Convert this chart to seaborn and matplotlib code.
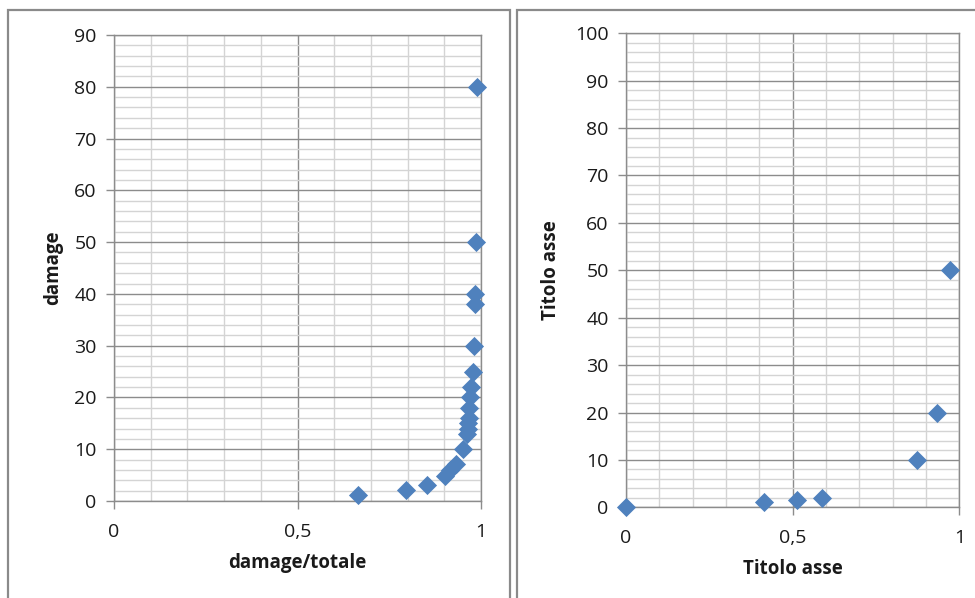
import matplotlib
matplotlib.use("Agg")
import matplotlib.pyplot as plt
from matplotlib.patches import Rectangle
from matplotlib.ticker import MultipleLocator, FuncFormatter
import seaborn as sns
import pandas as pd

# damage share vs. damage level
ratio_left = [0.664, 0.797, 0.852, 0.903, 0.916, 0.931, 0.950, 0.963, 0.964,
              0.965, 0.966, 0.968, 0.970, 0.973, 0.978, 0.982, 0.984, 0.985,
              0.987, 0.990]
damage_left = [1.2, 2.2, 3, 4.9, 6, 7.1, 10, 13, 14, 15, 16, 18, 20, 22, 25,
               30, 38, 40, 50, 80]

# second series
x_right = [0, 0.414, 0.514, 0.587, 0.874, 0.932, 0.972]
y_right = [0, 1.2, 1.5, 2, 10, 20, 50]

x_ticks = [0, 0.5, 1]
x_tick_labels = ["0", "0,5", "1"]

sns.set_theme(style="white")
plt.rcParams["font.family"] = ["Open Sans", "DejaVu Sans"]

BLUE = "#4F81BD"
MAJOR = "#8C8C8C"
MINOR = "#D4D4D4"
TEXT = "#1a1a1a"

W, H = 975, 598
fig = plt.figure(figsize=(W / 100, H / 100), dpi=100)
fig.patch.set_facecolor("white")


def px_axes(left, right, top, bottom):
    return fig.add_axes([left / W, (H - bottom) / H, (right - left) / W, (bottom - top) / H])


def style_axes(ax, ymax, ymajor):
    ax.set_xlim(0, 1)
    ax.set_ylim(0, ymax)
    ax.xaxis.set_major_locator(MultipleLocator(0.5))
    ax.xaxis.set_minor_locator(MultipleLocator(0.1))
    ax.yaxis.set_major_locator(MultipleLocator(ymajor))
    ax.yaxis.set_minor_locator(MultipleLocator(2))
    ax.xaxis.set_major_formatter(FuncFormatter(
        lambda v, p: x_tick_labels[x_ticks.index(round(v, 2))] if round(v, 2) in x_ticks else ""))
    ax.grid(which="minor", color=MINOR, linewidth=1.0, zorder=0)
    ax.grid(which="major", color=MAJOR, linewidth=1.0, zorder=1)
    ax.set_axisbelow(True)
    for side in ["left", "bottom", "top", "right"]:
        ax.spines[side].set_visible(True)
        ax.spines[side].set_color(MAJOR)
        ax.spines[side].set_linewidth(1.0)
    ax.tick_params(which="major", direction="out", length=5.5, width=1.0, color=MAJOR,
                   labelsize=14, labelcolor=TEXT, left=True, bottom=True)
    ax.tick_params(axis="y", which="major", pad=7)
    ax.tick_params(axis="x", which="major", pad=10)
    ax.tick_params(which="minor", length=0)
    ax.set_facecolor("white")


# chart area borders
for x0, x1 in [(8, 510), (517, 1000)]:
    fig.patches.append(Rectangle((x0 / W, -0.1), (x1 - x0) / W, (H - 10) / H + 0.1,
                                 transform=fig.transFigure, fill=False,
                                 edgecolor="#8A8A8A", linewidth=1.6, clip_on=False))

# left chart
ax1 = px_axes(114, 481, 35, 501)
style_axes(ax1, 90, 10)
df1 = pd.DataFrame({"ratio": ratio_left, "damage": damage_left})
sns.scatterplot(data=df1, x="ratio", y="damage", ax=ax1, marker="D", s=95,
                color=BLUE, linewidth=0, clip_on=False, zorder=3)
ax1.set_xlabel("damage/totale", fontsize=13.5, fontweight="bold", color=TEXT, labelpad=9)
ax1.set_ylabel("damage", fontsize=13.5, fontweight="bold", color=TEXT, labelpad=8)

# right chart
ax2 = px_axes(626, 959.3, 33.3, 507.3)
style_axes(ax2, 100, 10)
df2 = pd.DataFrame({"x": x_right, "y": y_right})
sns.scatterplot(data=df2, x="x", y="y", ax=ax2, marker="D", s=95,
                color=BLUE, linewidth=0, clip_on=False, zorder=3)
ax2.set_xlabel("Titolo asse", fontsize=13.5, fontweight="bold", color=TEXT, labelpad=9)
ax2.set_ylabel("Titolo asse", fontsize=13.5, fontweight="bold", color=TEXT, labelpad=10)

fig.savefig("out.png", dpi=100, facecolor="white")
